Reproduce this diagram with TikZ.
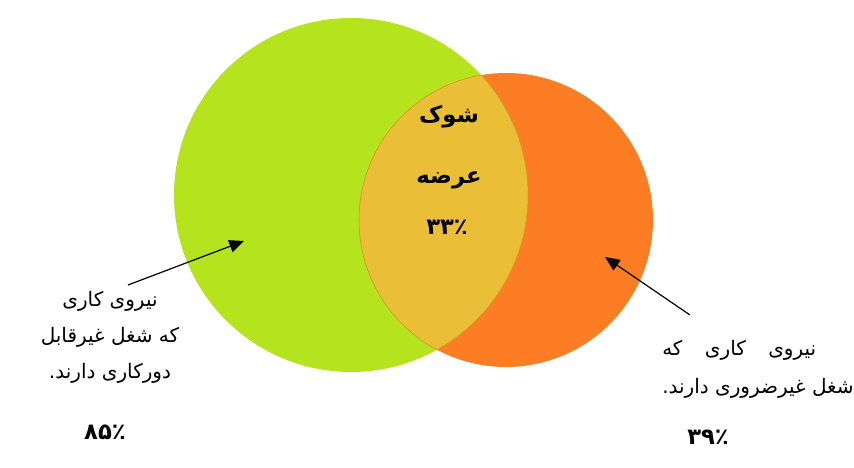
\documentclass[tikz,border=0pt]{standalone}
\usepackage{fontspec}
\newfontfamily\persianfont[Script=Arabic]{DejaVu Sans}
\TeXXeTstate=1
\usetikzlibrary{positioning, arrows.meta}

\definecolor{limegreen}{RGB}{181,227,30}
\definecolor{shockorange}{RGB}{252,125,36}
\definecolor{lensyellow}{RGB}{235,190,55}
\definecolor{lensedge}{RGB}{214,150,40}

\begin{document}
\begin{tikzpicture}[
    x=0.75pt, y=0.75pt,
    >={Triangle[length=11pt, width=9.5pt]},
    label_text/.style={font=\persianfont\fontsize{15}{27}\selectfont, align=center, inner sep=0pt},
    bold_text/.style={font=\persianfont\bfseries\fontsize{17}{20}\selectfont, inner sep=0pt},
    pointer/.style={->, black, line width=0.9pt}
]
    \useasboundingbox (0,0) rectangle (854,468);

    % ======================================================================
    % KREISE
    % ======================================================================
    \fill[limegreen] (351,273) circle (177);
    \fill[shockorange] (506,248) circle (147);

    % Schnittmenge (Linse)
    \begin{scope}
        \clip (351,273) circle (177);
        \fill[lensyellow] (506,248) circle (147);
        \draw[lensedge, thin] (506,248) circle (147);
    \end{scope}
    \begin{scope}
        \clip (506,248) circle (147);
        \draw[lensedge, thin] (351,273) circle (177);
    \end{scope}

    % ======================================================================
    % TEXTE
    % ======================================================================
    \node[bold_text] (shock_word) at (449,351) {\beginR شوک\endR};
    \node[bold_text] (supply_word) at (449,288) {\beginR عرضه\endR};
    \node[bold_text] (shock_share) at (447,241) {۳۳٪};

    \node[label_text] (green_label) at (110,131)
        {\beginR نیروی کاری\endR\\
         \beginR که شغل غیرقابل\endR\\
         \beginR دورکاری دارند.\endR};
    \node[bold_text] (green_share) at (105,36) {۸۵٪};

    \node[label_text, align=left, anchor=west, font=\persianfont\fontsize{15}{28.5}\selectfont] (orange_label) at (662,99)
        {\hbox to 115.5pt{\beginR نیروی\hfill کاری\hfill که\endR}\\
         \beginR شغل غیرضروری دارند.\endR};
    \node[bold_text] (orange_share) at (708,31) {۳۹٪};

    % Pfeile
    \coordinate (green_tail) at (128,183);
    \coordinate (green_tip) at (244,227);
    \coordinate (orange_tail) at (690,153);
    \coordinate (orange_tip) at (605,211);
    \draw[pointer] (green_tail) -- (green_tip);
    \draw[pointer] (orange_tail) -- (orange_tip);

\end{tikzpicture}
\end{document}
